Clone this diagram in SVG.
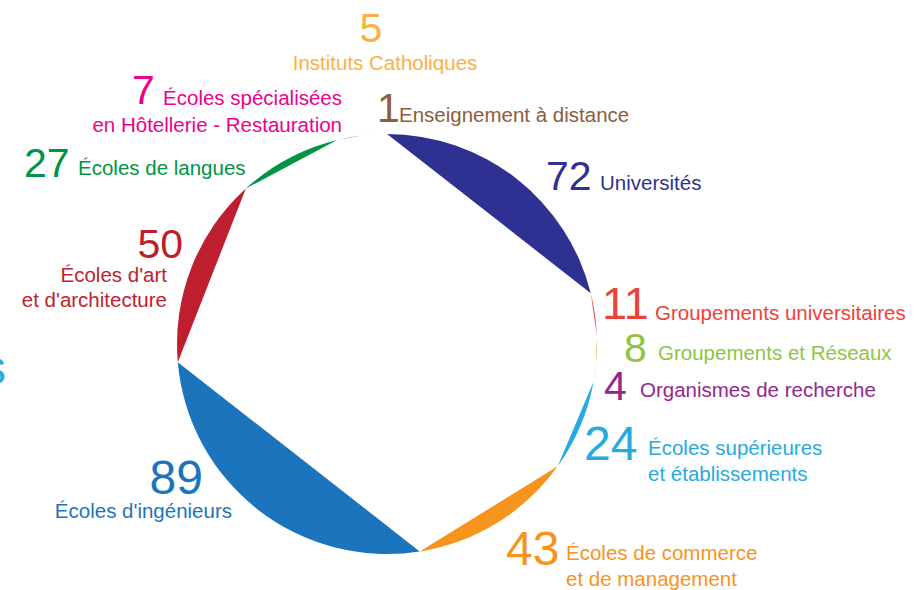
<svg xmlns="http://www.w3.org/2000/svg" width="915" height="590" viewBox="0 0 915 590">
<style>
text{font-family:"Liberation Sans",Arial,sans-serif}
.n{font-size:41px}
.b{font-size:48px}
.l{font-size:20.5px}
</style>
<rect width="915" height="590" fill="#fff"/>
<g id="segments">
<path id="seg-universites" d="M387,134 A210,210 0 0 1 590.77,293.24 Z" fill="#2e3192"/>
<path id="seg-groupements-univ" d="M590.77,293.24 A210,210 0 0 1 596.82,335.28 Z" fill="#ef4136"/>
<path id="seg-groupements-reseaux" d="M596.82,335.28 A210,210 0 0 1 595.82,366.21 Z" fill="#8dc63f"/>
<path id="seg-organismes" d="M595.82,366.21 A210,210 0 0 1 593.62,381.51 Z" fill="#92278f"/>
<path id="seg-ecoles-sup" d="M593.62,381.51 A210,210 0 0 1 557.69,466.33 Z" fill="#27aae1"/>
<path id="seg-commerce" d="M557.69,466.33 A210,210 0 0 1 419.75,551.43 Z" fill="#f7941d"/>
<path id="seg-ingenieurs" d="M419.75,551.43 A210,210 0 0 1 177.79,362.23 Z" fill="#1c75bc"/>
<path id="seg-art" d="M177.79,362.23 A210,210 0 0 1 245.86,188.5 Z" fill="#be1e2d"/>
<path id="seg-langues" d="M245.86,188.5 A210,210 0 0 1 337.19,139.99 Z" fill="#009444"/>
<path id="seg-hotellerie" d="M337.19,139.99 A210,210 0 0 1 363.85,135.28 Z" fill="#ec008c"/>
<path id="seg-catholiques" d="M363.85,135.28 A210,210 0 0 1 383.12,134.04 Z" fill="#f9ed32"/>
<path id="seg-distance" d="M383.12,134.04 A210,210 0 0 1 387,134 Z" fill="#f7941d"/>
</g>
<g id="label-catholiques" fill="#fbb040">
<text class="n" x="371" y="42" text-anchor="middle">5</text>
<text class="l" x="385" y="70" text-anchor="middle">Instituts Catholiques</text>
</g>
<g id="label-hotellerie" fill="#ec008c">
<text class="n" x="132" y="104">7</text>
<text class="l" x="342" y="105" text-anchor="end">Écoles spécialisées</text>
<text class="l" x="342" y="132" text-anchor="end">en Hôtellerie - Restauration</text>
</g>
<g id="label-distance" fill="#8b5e3c">
<text class="n" x="377" y="122">1</text>
<text class="l" x="399" y="122">Enseignement à distance</text>
</g>
<g id="label-universites" fill="#2e3192">
<text class="n" x="546" y="190">72</text>
<text class="l" x="600" y="190">Universités</text>
</g>
<g id="label-groupements-univ" fill="#ef4136">
<text class="n" x="602" y="319" style="font-size:45px">11</text>
<text class="l" x="655" y="320">Groupements universitaires</text>
</g>
<g id="label-groupements-reseaux" fill="#8dc63f">
<text class="n" x="624" y="362">8</text>
<text class="l" x="658" y="360">Groupements et Réseaux</text>
</g>
<g id="label-organismes" fill="#92278f">
<text class="n" x="604" y="400">4</text>
<text class="l" x="640" y="397">Organismes de recherche</text>
</g>
<g id="label-ecoles-sup" fill="#27aae1">
<text class="b" x="584" y="460">24</text>
<text class="l" x="648" y="455">Écoles supérieures</text>
<text class="l" x="648" y="481">et établissements</text>
<text class="b" x="-18" y="384">s</text>
</g>
<g id="label-commerce" fill="#f7941d">
<text class="b" x="506" y="565">43</text>
<text class="l" x="566" y="560">Écoles de commerce</text>
<text class="l" x="566" y="586">et de management</text>
</g>
<g id="label-ingenieurs" fill="#1c75bc">
<text class="b" x="203" y="494" text-anchor="end">89</text>
<text class="l" x="232" y="518" text-anchor="end">Écoles d'ingénieurs</text>
</g>
<g id="label-art" fill="#be1e2d">
<text class="n" x="183" y="258" text-anchor="end">50</text>
<text class="l" x="167" y="282" text-anchor="end">Écoles d'art</text>
<text class="l" x="167" y="307" text-anchor="end">et d'architecture</text>
</g>
<g id="label-langues" fill="#009444">
<text class="n" x="24" y="177">27</text>
<text class="l" x="78" y="175">Écoles de langues</text>
</g>
</svg>
